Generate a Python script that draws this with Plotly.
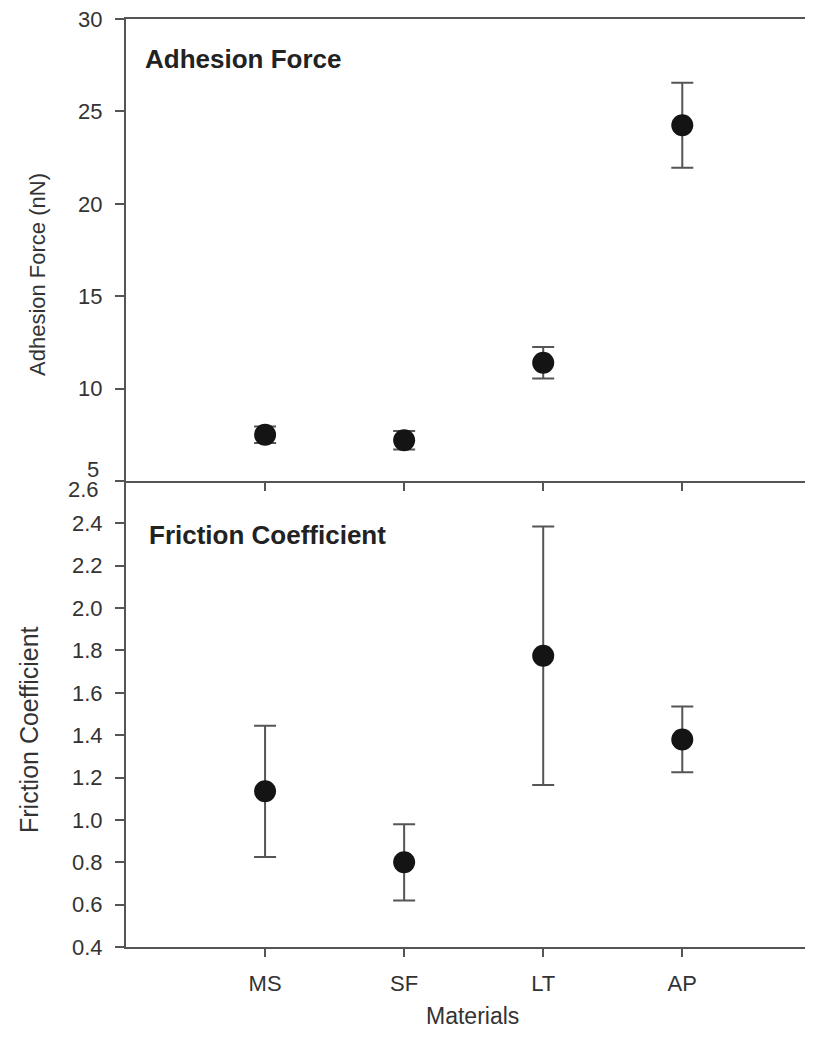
import plotly.graph_objects as go

materials = ["MS", "SF", "LT", "AP"]
adhesion = [7.5, 7.2, 11.4, 24.25]
adhesion_err = [0.45, 0.5, 0.85, 2.3]
friction = [1.135, 0.80, 1.775, 1.38]
friction_err = [0.31, 0.18, 0.61, 0.155]

top_ticks = [5, 10, 15, 20, 25, 30]
bot_ticks = [0.4, 0.6, 0.8, 1.0, 1.2, 1.4, 1.6, 1.8, 2.0, 2.2, 2.4, 2.6]

xpos = [i + 1 for i in range(len(materials))]

# page body has an 8px default margin; work in page pixel coordinates minus 8
OFF = 8
W, H = 813 - OFF, 1037 - OFF
ML, MR, MT = 126 - OFF, 0, 19 - OFF
BOT = 947 - OFF
MB = H - BOT
MID = 481 - OFF
PH = H - MT - MB
split = (BOT - MID) / PH

FONT = "Liberation Sans, Arial, sans-serif"
AXC = "#555555"
TXT = "#333333"

fig = go.Figure()
fig.add_trace(go.Scatter(
    x=xpos, y=adhesion, mode="markers", xaxis="x2", yaxis="y2",
    marker=dict(size=22, color="#141414"),
    error_y=dict(type="data", array=adhesion_err, color="#555555", thickness=2, width=11),
    showlegend=False))
fig.add_trace(go.Scatter(
    x=xpos, y=friction, mode="markers", xaxis="x", yaxis="y",
    marker=dict(size=22, color="#141414"),
    error_y=dict(type="data", array=friction_err, color="#555555", thickness=2, width=11),
    showlegend=False))

common_x = dict(range=[0, 4.94], showgrid=False, zeroline=False, linecolor=AXC, linewidth=2,
                ticks="outside", ticklen=8, tickwidth=2, tickcolor=AXC,
                tickvals=xpos, ticktext=materials)

fig.update_layout(
    width=W, height=H, margin=dict(l=ML, r=MR, t=MT, b=MB),
    paper_bgcolor="white", plot_bgcolor="white",
    font=dict(family=FONT, size=22, color=TXT),
    xaxis=dict(**common_x, anchor="y", showline=True,
               tickfont=dict(size=22, color=TXT), ticklabelstandoff=8),
    xaxis2=dict(**common_x, anchor="y2", matches="x", showline=True, mirror=True,
                showticklabels=False),
    yaxis=dict(domain=[0, split], range=[0.4, 2.6], tickvals=bot_ticks,
               ticktext=[f"{v:.1f}" if v != 2.6 else "" for v in bot_ticks],
               showgrid=False, zeroline=False, showline=True, linecolor=AXC, linewidth=2,
               ticks="outside", ticklen=9, tickwidth=2, tickcolor=AXC,
               tickfont=dict(size=22, color=TXT), ticklabelstandoff=8,
               ticklabeloverflow="allow"),
    yaxis2=dict(domain=[split, 1], range=[5, 30], tickvals=top_ticks,
                ticktext=[str(v) if v != 5 else "" for v in top_ticks],
                showgrid=False, zeroline=False, showline=True, linecolor=AXC, linewidth=2,
                ticks="outside", ticklen=9, tickwidth=2, tickcolor=AXC,
                tickfont=dict(size=22, color=TXT), ticklabelstandoff=8,
                ticklabeloverflow="allow"),
)

def px_x(px):
    return (px - OFF - ML) / (W - ML)

def px_y(py):
    return (BOT - (py - OFF)) / PH

ann = [
    dict(text="<b>Adhesion Force</b>", xref="paper", yref="paper",
         x=px_x(143), y=px_y(59), xanchor="left", yanchor="middle",
         showarrow=False, font=dict(size=26, color="#222222")),
    dict(text="<b>Friction Coefficient</b>", xref="paper", yref="paper",
         x=px_x(147), y=px_y(535), xanchor="left", yanchor="middle",
         showarrow=False, font=dict(size=26, color="#222222")),
    dict(text="Adhesion Force (nN)", xref="paper", yref="paper",
         x=px_x(37), y=px_y(275), textangle=-90,
         xanchor="center", yanchor="middle", showarrow=False, font=dict(size=22, color=TXT)),
    dict(text="Friction Coefficient", xref="paper", yref="paper",
         x=px_x(29), y=px_y(730), textangle=-90,
         xanchor="center", yanchor="middle", showarrow=False, font=dict(size=25, color=TXT)),
    dict(text="Materials", xref="paper", yref="paper",
         x=px_x(472), y=px_y(1016), xanchor="center", yanchor="middle",
         showarrow=False, font=dict(size=23, color=TXT)),
    dict(text=str(top_ticks[0]), xref="paper", yref="y2", x=px_x(101), y=top_ticks[0],
         xanchor="right", yanchor="middle", yshift=12, showarrow=False,
         font=dict(size=22, color=TXT)),
    dict(text=f"{bot_ticks[-1]:.1f}", xref="paper", yref="y", x=px_x(101), y=bot_ticks[-1],
         xanchor="right", yanchor="middle", yshift=-9, showarrow=False,
         font=dict(size=22, color=TXT)),
]
fig.update_layout(annotations=ann)

fig.write_html("out.html")
